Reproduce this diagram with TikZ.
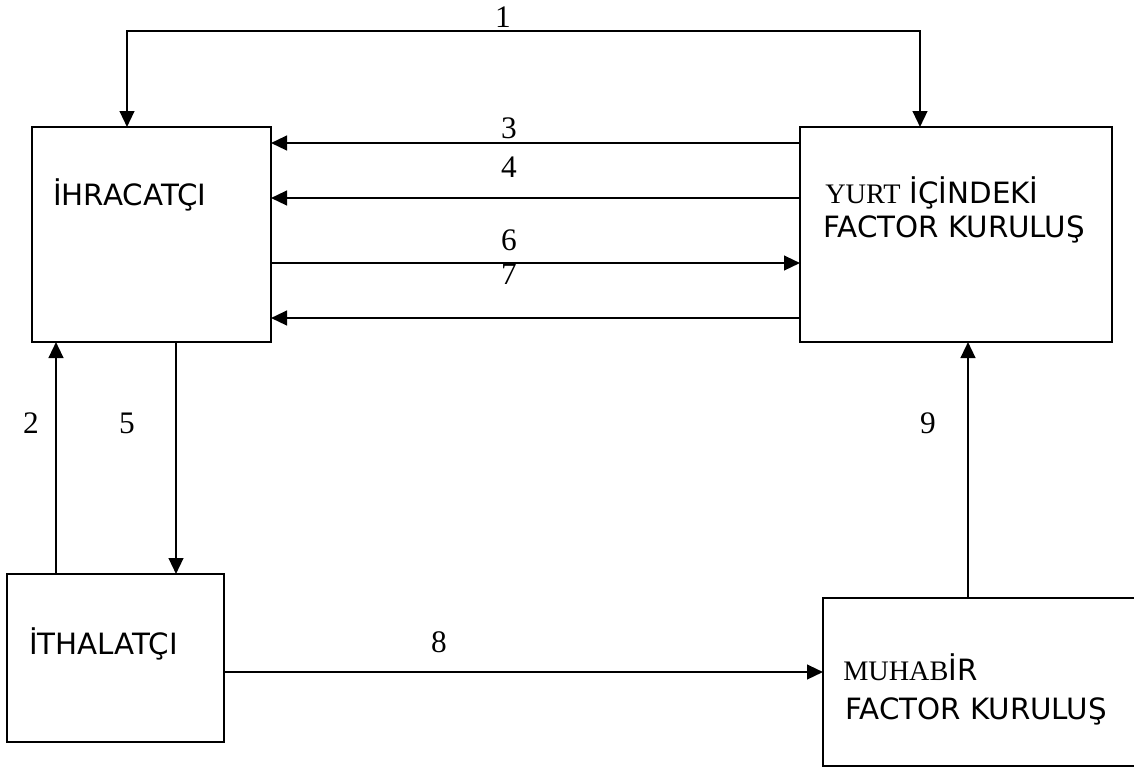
\documentclass[tikz,border=0pt]{standalone}
\usepackage{fontspec}
\setmainfont{Liberation Serif}
\newfontfamily\tahfont{DejaVu Sans}
\usetikzlibrary{arrows.meta,calc}
\begin{document}
\begin{tikzpicture}[x=0.75pt,y=-0.75pt,
  box/.style={draw,line width=1.7pt,rectangle,inner sep=0pt,outer sep=0pt,anchor=north west},
  boxtext/.style={inner sep=0pt,anchor=base west,font=\tahfont\fontsize{22pt}{26pt}\selectfont},
  num/.style={inner sep=0pt,font=\rmfamily\fontsize{23.5pt}{27pt}\selectfont},
  conn/.style={line width=1.7pt,-{Triangle[length=12pt,width=11pt]}},
  dconn/.style={line width=1.7pt,{Triangle[length=12pt,width=11pt]}-{Triangle[length=12pt,width=11pt]}}]
\useasboundingbox (0,0) rectangle (1134,769);
% boxes
\node[box,minimum width=179.25pt,minimum height=161.25pt] (A) at (32,127) {};
\node[box,minimum width=234pt,minimum height=161.25pt] (B) at (800,127) {};
\node[box,minimum width=162.75pt,minimum height=126pt] (C) at (7,574) {};
\node[box,minimum width=237.75pt,minimum height=126pt] (D) at (823,598) {};
% box texts
\node[boxtext] (tA) at (53,205) {İHRACATÇI};
\node[boxtext] (tB1) at (825,203) {{\rmfamily\fontsize{21.2pt}{24pt}\selectfont YURT} İÇİNDEKİ};
\node[boxtext] (tB2) at (823,237) {FACTOR KURULUŞ};
\node[boxtext] (tC) at (29,654) {İTHALATÇI};
\node[boxtext] (tD1) at (843,680) {{\rmfamily\fontsize{21.2pt}{24pt}\selectfont MUHAB}İR};
\node[boxtext] (tD2) at (845,719) {FACTOR KURULUŞ};
% connectors
\draw[dconn] ($(A.north west)+(95,0)$) -- ++(0,-96) -| ($(B.north west)+(120,0)$);
\draw[conn] ($(B.north west)+(0,16)$) -- ($(A.north east)+(0,16)$);
\draw[conn] ($(B.north west)+(0,71)$) -- ($(A.north east)+(0,71)$);
\draw[conn] ($(A.north east)+(0,136)$) -- ($(B.north west)+(0,136)$);
\draw[conn] ($(B.north west)+(0,191)$) -- ($(A.north east)+(0,191)$);
\draw[conn] ($(C.north west)+(49,0)$) -- ($(A.south west)+(24,0)$);
\draw[conn] ($(A.south west)+(144,0)$) -- ($(C.north west)+(169,0)$);
\draw[conn] ($(C.north east)+(0,98)$) -- ($(D.north west)+(0,74)$);
\draw[conn] ($(D.north west)+(145,0)$) -- ($(B.south west)+(168,0)$);
% labels
\node[num] (l1) at (503,17) {1};
\node[num] (l3) at (509,128) {3};
\node[num] (l4) at (509,167) {4};
\node[num] (l6) at (509,240) {6};
\node[num] (l7) at (509,274) {7};
\node[num] (l2) at (31,423) {2};
\node[num] (l5) at (127,423) {5};
\node[num] (l8) at (439,642) {8};
\node[num] (l9) at (928,423) {9};
\end{tikzpicture}
\end{document}
